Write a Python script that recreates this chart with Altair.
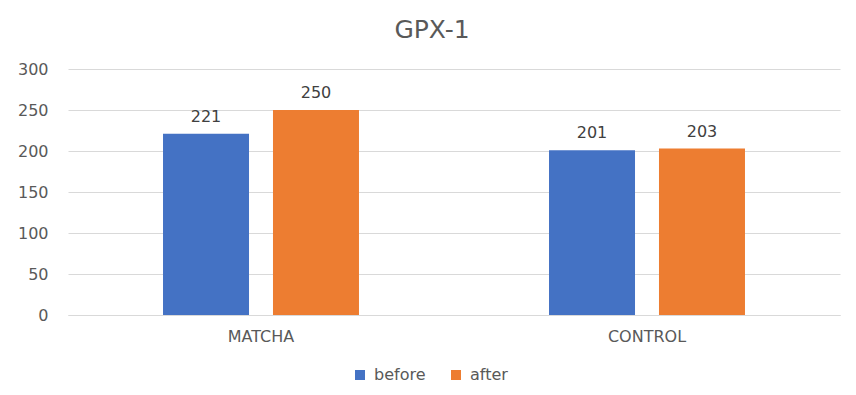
import altair as alt
import pandas as pd

categories = ["MATCHA", "CONTROL"]
series = ["before", "after"]
before_vals = [221, 201]
after_vals = [250, 203]
colors = ["#4472C4", "#ED7D31"]

rows = []
for i, c in enumerate(categories):
    rows.append({"group": c, "series": "before", "value": before_vals[i]})
    rows.append({"group": c, "series": "after", "value": after_vals[i]})
df = pd.DataFrame(rows)

FONT = "DejaVu Sans"
TXT = "#595959"

x = alt.X("group:N", sort=categories,
          scale=alt.Scale(paddingInner=0, paddingOuter=0),
          axis=alt.Axis(title=None, labelAngle=0, ticks=False, domain=True,
                        domainColor="#d9d9d9", labelPadding=13, labelFontSize=16,
                        labelColor=TXT, labelFont=FONT, grid=False))
xo = alt.XOffset("series:N", sort=series,
                 scale=alt.Scale(paddingInner=0.218, paddingOuter=0.864))
y = alt.Y("value:Q", scale=alt.Scale(domain=[0, 300]),
          axis=alt.Axis(title=None, values=[0, 50, 100, 150, 200, 250, 300],
                        ticks=False, domain=False, gridColor="#d9d9d9",
                        labelPadding=20, labelFontSize=16, labelColor=TXT,
                        labelFont=FONT))

bars = alt.Chart(df).mark_bar().encode(
    x=x, xOffset=xo, y=y,
    color=alt.Color("series:N", sort=series,
                    scale=alt.Scale(domain=series, range=colors),
                    legend=alt.Legend(title=None, orient="none", direction="horizontal",
                                      legendX=284, legendY=298, symbolType="square",
                                      symbolSize=100, symbolStrokeWidth=0,
                                      labelFontSize=16, labelColor=TXT, labelFont=FONT,
                                      columnPadding=22, symbolOffset=0, labelOffset=6)),
)

labels = alt.Chart(df).mark_text(dy=-12, baseline="alphabetic", fontSize=16,
                                 color="#404040", font=FONT).encode(
    x=x, xOffset=xo, y=y, text="value:Q"
)

chart = alt.layer(bars, labels).properties(
    width=772, height=246,
    title=alt.TitleParams("GPX-1", fontSize=25, color=TXT, font=FONT,
                          fontWeight="normal", anchor="middle", offset=18, dx=-22),
    autosize=alt.AutoSizeParams(type="none"),
    padding={"left": 60, "top": 61, "right": 8, "bottom": 80},
).configure_view(stroke=None)

chart.save("out.html", embed_options={"renderer": "svg", "actions": False})
